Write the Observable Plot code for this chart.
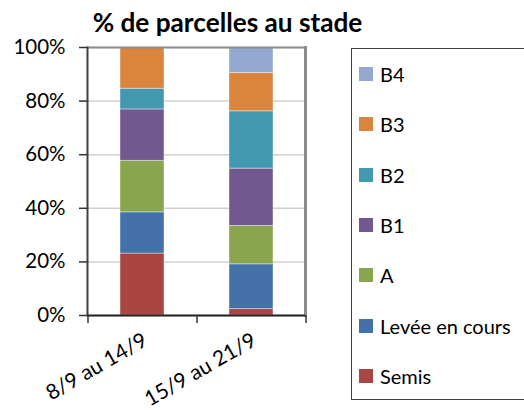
<!DOCTYPE html>
<html><head><meta charset="utf-8">
<script src="https://cdn.jsdelivr.net/npm/d3@7"></script>
<script src="https://cdn.jsdelivr.net/npm/@observablehq/plot@0.6"></script>
<style>
body{margin:0;background:#fff;font-family:Lato, sans-serif}
#wrap{position:relative;width:524px;height:410px;overflow:hidden;background:#fff}
#chart{position:absolute;left:0;top:0}
#title{position:absolute;left:0;width:455px;top:6px;text-align:center;font-weight:bold;font-size:26.2px;color:#000;line-height:32px}
#legend{position:absolute;left:351px;top:48px;width:200px;height:352px;border:1px solid #404040;box-sizing:border-box}
.item{position:absolute;left:7px;height:24px;line-height:24px;display:flex;align-items:center;font-size:20px;color:#000;white-space:nowrap}
.sw{width:14px;height:14px;margin-right:7px;flex:none}
</style>
</head><body>
<div id="wrap">
  <div id="chart"></div>
  <div id="title">% de parcelles au stade</div>
  <div id="legend"></div>
</div>
<script>
const categories = ["8/9 au 14/9", "15/9 au 21/9"];
const series = ["Semis", "Levée en cours", "A", "B1", "B2", "B3", "B4"];
const colors = ["#A94543", "#4472A8", "#89A54E", "#71588F", "#4298AF", "#DB843D", "#93A9D0"];
const week1 = [23.1, 15.4, 19.2, 19.2, 7.7, 15.4, 0];
const week2 = [2.4, 16.7, 14.3, 21.4, 21.4, 14.3, 9.5];
const yTicks = [0, 20, 40, 60, 80, 100];

const data = series.flatMap((s, i) => [
  {cat: categories[0], series: s, v: week1[i]},
  {cat: categories[1], series: s, v: week2[i]}
]);

const W = 340, H = 410, mL = 87, mR = 35, mT = 47, mB = 95;
const step = (W - mL - mR) / categories.length;

const plot = Plot.plot({
  width: W, height: H,
  marginTop: mT, marginBottom: mB, marginLeft: mL, marginRight: mR,
  style: {fontFamily: "Lato, sans-serif", fontSize: "20.5px", color: "#000", background: "transparent"},
  x: {domain: categories, paddingInner: 0.6, paddingOuter: 0.3, label: null},
  y: {domain: [0, 100], label: null},
  color: {domain: series, range: colors},
  marks: [
    Plot.gridY(yTicks, {stroke: "#d0d0d0", strokeOpacity: 1, strokeWidth: 1.5}),
    Plot.barY(data, {x: "cat", y: "v", fill: "series", order: series, stroke: "#fff", strokeOpacity: 0.4, strokeWidth: 1}),
    Plot.ruleY([100], {stroke: "#8c8c8c", strokeWidth: 2}),
    Plot.frame({anchor: "right", stroke: "#8c8c8c", strokeWidth: 3}),
    Plot.frame({anchor: "left", stroke: "#404040", strokeWidth: 2}),
    Plot.ruleY([0], {stroke: "#222", strokeWidth: 2}),
    Plot.ruleX(categories, {x: d => d, dx: -step / 2, y1: 0, y2: 0, insetBottom: -8, stroke: "#333", strokeWidth: 1.5}),
    Plot.ruleX(categories.slice(-1), {x: d => d, dx: step / 2, y1: 0, y2: 0, insetBottom: -8, stroke: "#333", strokeWidth: 1.5}),
    Plot.axisY(yTicks, {tickFormat: d => d + "%", tickSize: 8, tickPadding: 14, stroke: "#333", strokeWidth: 1.5, fontSize: 20.5}),
    Plot.axisX({tickRotate: -30, tickSize: 0, tickPadding: 23, dx: 3, fontSize: 21})
  ]
});
document.getElementById("chart").appendChild(plot);

const legend = document.getElementById("legend");
series.slice().reverse().forEach((s, i) => {
  const idx = series.indexOf(s);
  const it = document.createElement("div");
  it.className = "item";
  it.style.top = (74 - 49 - 12 + i * 50.3) + "px";
  it.innerHTML = `<span class="sw" style="background:${colors[idx]}"></span><span>${s}</span>`;
  legend.appendChild(it);
});
</script>
</body></html>
